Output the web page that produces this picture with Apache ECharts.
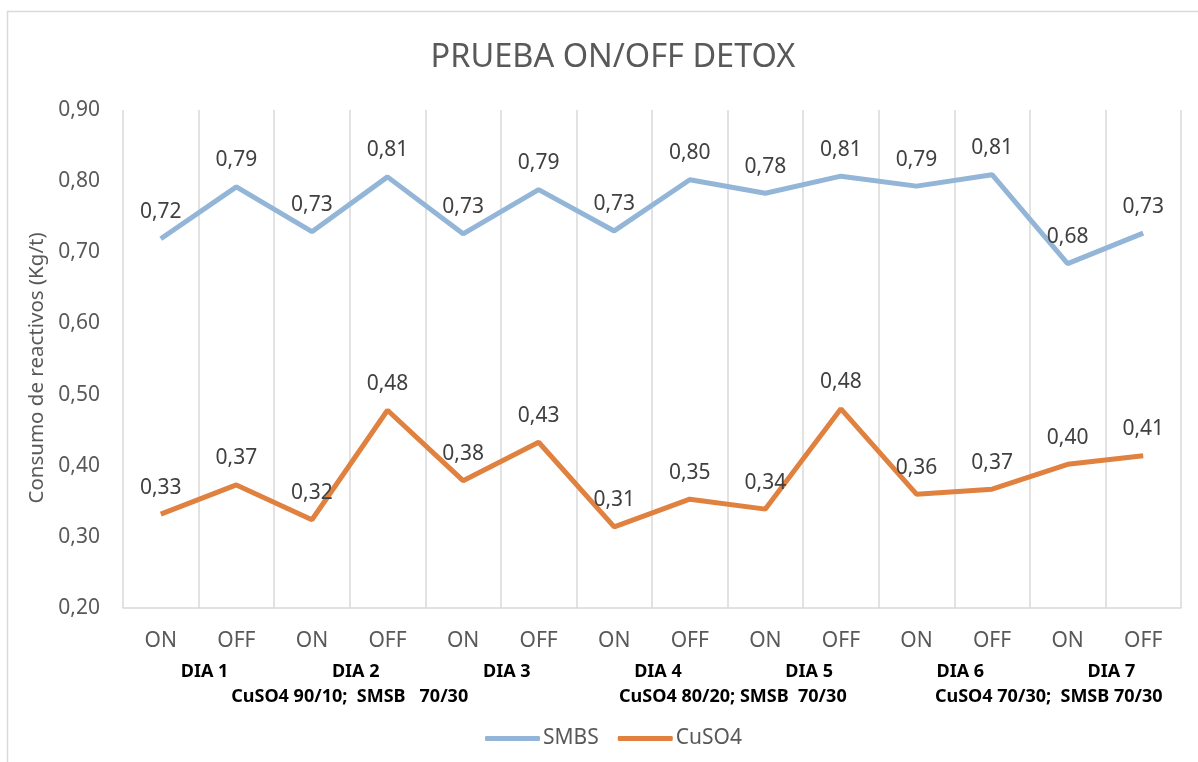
<!DOCTYPE html>
<html>
<head>
<meta charset="utf-8">
<script src="https://cdn.jsdelivr.net/npm/echarts@6/dist/echarts.min.js"></script>
<style>
html,body{margin:0;padding:0;background:#fff;}
#c{width:1198px;height:762px;}
</style>
</head>
<body>
<div id="c"></div>
<script>
const categories = ['ON','OFF','ON','OFF','ON','OFF','ON','OFF','ON','OFF','ON','OFF','ON','OFF'];
const days = ['DIA 1','DIA 2','DIA 3','DIA 4','DIA 5','DIA 6','DIA 7'];
const groupLabels = ['CuSO4 90/10;  SMSB   70/30','CuSO4 80/20; SMSB  70/30','CuSO4 70/30;  SMSB 70/30'];
const groupCenters = [3, 8.07, 12.25]; // in category-boundary units
const smbs = [0.719, 0.792, 0.729, 0.806, 0.726, 0.788, 0.730, 0.802, 0.783, 0.807, 0.793, 0.809, 0.684, 0.727];
const cuso4 = [0.332, 0.373, 0.324, 0.478, 0.379, 0.433, 0.314, 0.353, 0.339, 0.480, 0.360, 0.367, 0.402, 0.414];

const FONT = 'Noto Sans';
const fmt = v => Number(v).toFixed(2).replace('.', ',');

const chart = echarts.init(document.getElementById('c'), null, {renderer:'canvas'});
const gridLeft = 123, gridRight = 17, gridTop = 110, gridBottom = 154;

function labelCfg() {
  return {show:true, position:'top', distance:16, color:'#404040', fontFamily:FONT, fontSize:21,
          formatter: p => fmt(p.value)};
}

const option = {
  animation:false,
  backgroundColor:'#fff',
  title:{text:'PRUEBA ON/OFF DETOX', left:608, textAlign:'center', top:36,
    textStyle:{fontFamily:FONT, fontSize:32.5, fontWeight:'normal', color:'#595959'}},
  grid:{left:gridLeft, right:gridRight, top:gridTop, bottom:gridBottom},
  legend:{bottom:8, left:480, itemWidth:55, itemHeight:5, itemGap:19,
    textStyle:{fontFamily:FONT, fontSize:21, color:'#595959', padding:[0,0,0,-2]},
    data:[{name:'SMBS', icon:'roundRect'},{name:'CuSO4', icon:'roundRect'}]},
  xAxis:[{
    type:'category', data:categories, boundaryGap:true,
    axisLine:{show:true, lineStyle:{color:'#d9d9d9', width:1.5}},
    axisTick:{show:false},
    axisLabel:{interval:0, margin:23, fontFamily:FONT, fontSize:21, color:'#595959'},
    splitLine:{show:true, interval:0, lineStyle:{color:'#d9d9d9', width:1.5}}
  },{
    type:'category', data:days, boundaryGap:true, position:'bottom', offset:0,
    axisLine:{show:false}, axisTick:{show:false}, splitLine:{show:false},
    axisLabel:{interval:0, margin:55, fontFamily:FONT, fontSize:18, fontWeight:'bold', color:'#000',
      padding:[0,0,0,12]}
  }],
  yAxis:{type:'value', min:0.2, max:0.9, interval:0.1,
    name:'Consumo de reactivos (Kg/t)', nameLocation:'middle', nameGap:74,
    nameTextStyle:{fontFamily:FONT, fontSize:20.5, color:'#595959', padding:[0,0,0,-18]},
    axisLine:{show:false}, axisTick:{show:false}, splitLine:{show:false},
    axisLabel:{margin:23, fontFamily:FONT, fontSize:21, color:'#595959', formatter: v => fmt(v)}},
  series:[
    {name:'SMBS', type:'line', data:smbs, xAxisIndex:0, symbol:'circle', symbolSize:0.1, showSymbol:true,
      lineStyle:{color:'#93b5d7', width:5}, itemStyle:{color:'#93b5d7'}, label:labelCfg()},
    {name:'CuSO4', type:'line', data:cuso4, xAxisIndex:0, symbol:'circle', symbolSize:0.1, showSymbol:true,
      lineStyle:{color:'#e0813f', width:5}, itemStyle:{color:'#e0813f'}, label:labelCfg()}
  ]
};
chart.setOption(option);

// third-level group labels and outer border
const plotW = 1198 - gridLeft - gridRight;
const step = plotW / categories.length;
const graphics = [{type:'rect', shape:{x:7.5, y:11.5, width:1250, height:800}, style:{fill:null, stroke:'#d9d9d9', lineWidth:1.5}, silent:true}];
groupLabels.forEach((t, i) => {
  graphics.push({type:'text', x: gridLeft + groupCenters[i]*step, y: 697,
    style:{text:t, fontFamily:FONT, fontSize:18, fontWeight:'bold', fill:'#000', align:'center', verticalAlign:'middle'}});
});
chart.setOption({graphic:graphics});
</script>
</body>
</html>
